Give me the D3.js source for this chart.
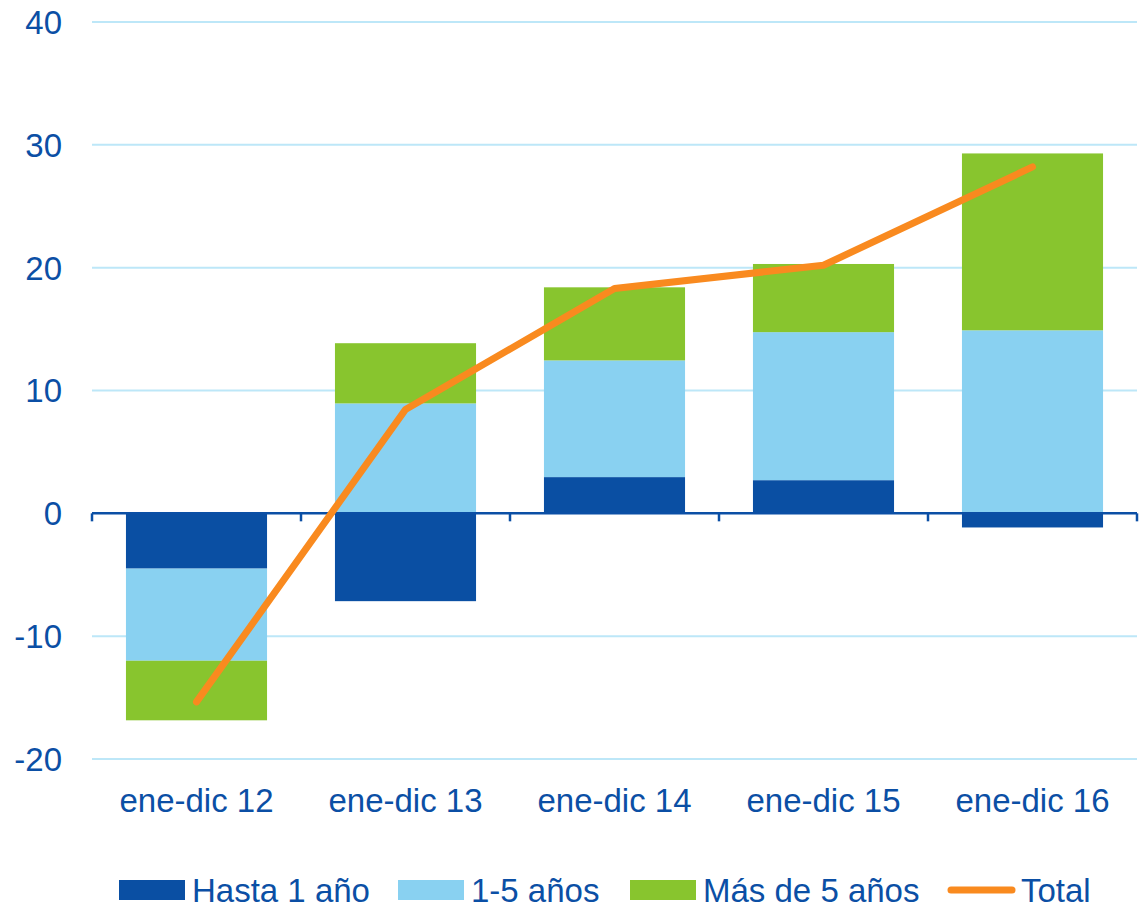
<!DOCTYPE html>
<html lang="es">
<head>
<meta charset="utf-8">
<script src="https://cdn.jsdelivr.net/npm/d3@7"></script>
<style>
  html, body { margin: 0; padding: 0; background: #fff; }
  svg { display: block; font-family: "Liberation Sans", Arial, sans-serif; }
</style>
</head>
<body>
<svg id="chart" width="1142" height="907"></svg>
<script>
// Periods on the x axis
const categories = ["ene-dic 12", "ene-dic 13", "ene-dic 14", "ene-dic 15", "ene-dic 16"];

// Stacked components by maturity
const hastaUnAno = [-4.5, -7.15, 2.95, 2.7, -1.15];
const unoACinco = [-7.5, 8.95, 9.5, 12.05, 14.9];
const masDeCinco = [-4.85, 4.9, 5.95, 5.55, 14.4];

// Total line
const total = [-15.35, 8.45, 18.3, 20.2, 28.2];

// Y axis ticks
const yTicks = [-20, -10, 0, 10, 20, 30, 40];

const seriesNames = ["Hasta 1 año", "1-5 años", "Más de 5 años"];
const seriesColors = ["#0a4fa3", "#89d1f1", "#88c52e"];
const lineColor = "#f98a1f";
const textColor = "#0b4fa5";
const fontSize = 33;

const svg = d3.select("#chart");
const plotLeft = 92, plotRight = 1137, plotTop = 22, plotBottom = 759;

const x = d3.scaleBand().domain(categories).range([plotLeft, plotRight]).paddingInner(0.325).paddingOuter(0.1625);
const xBand = d3.scaleBand().domain(categories).range([plotLeft, plotRight]);
const y = d3.scaleLinear().domain([-20, 40]).range([plotBottom, plotTop]);

// Gridlines
svg.append("g")
  .selectAll("line")
  .data(yTicks.filter(t => t !== 0))
  .join("line")
  .attr("x1", plotLeft).attr("x2", plotRight)
  .attr("y1", d => y(d)).attr("y2", d => y(d))
  .attr("stroke", "#bde7f8").attr("stroke-width", 2);

// Y tick labels
svg.append("g")
  .selectAll("text")
  .data(yTicks)
  .join("text")
  .attr("x", 62)
  .attr("y", d => y(d))
  .attr("dy", "0.36em")
  .attr("text-anchor", "end")
  .attr("fill", textColor)
  .attr("font-size", fontSize)
  .text(d => d);

// Stacked bars
const table = categories.map((c, i) => ({
  cat: c,
  [seriesNames[0]]: hastaUnAno[i],
  [seriesNames[1]]: unoACinco[i],
  [seriesNames[2]]: masDeCinco[i]
}));
const stacked = d3.stack().keys(seriesNames).offset(d3.stackOffsetDiverging)(table);

svg.append("g")
  .selectAll("g")
  .data(stacked)
  .join("g")
  .attr("fill", (d, i) => seriesColors[i])
  .selectAll("rect")
  .data(d => d)
  .join("rect")
  .attr("x", d => x(d.data.cat))
  .attr("width", x.bandwidth())
  .attr("y", d => y(Math.max(d[0], d[1])))
  .attr("height", d => Math.abs(y(d[0]) - y(d[1])));

// Zero axis with category ticks
const axisG = svg.append("g").attr("transform", `translate(0,${y(0)})`);
axisG.append("line")
  .attr("x1", plotLeft).attr("x2", plotRight)
  .attr("stroke", "#0b4fa5").attr("stroke-width", 2.5);
axisG.selectAll("line.tick")
  .data(d3.range(categories.length + 1))
  .join("line")
  .attr("class", "tick")
  .attr("x1", i => plotLeft + i * xBand.step())
  .attr("x2", i => plotLeft + i * xBand.step())
  .attr("y1", 0).attr("y2", 8)
  .attr("stroke", "#0b4fa5").attr("stroke-width", 2.5);

// Category labels
svg.append("g")
  .selectAll("text")
  .data(categories)
  .join("text")
  .attr("x", d => xBand(d) + xBand.bandwidth() / 2)
  .attr("y", 800)
  .attr("dy", "0.36em")
  .attr("text-anchor", "middle")
  .attr("fill", textColor)
  .attr("font-size", fontSize)
  .text(d => d);

// Total line
const line = d3.line()
  .x((d, i) => xBand(categories[i]) + xBand.bandwidth() / 2)
  .y(d => y(d));
svg.append("path")
  .datum(total)
  .attr("d", line)
  .attr("fill", "none")
  .attr("stroke", lineColor)
  .attr("stroke-width", 7)
  .attr("stroke-linecap", "round")
  .attr("stroke-linejoin", "round");

// Legend
const legendItems = [
  { name: seriesNames[0], color: seriesColors[0], type: "rect", x: 119 },
  { name: seriesNames[1], color: seriesColors[1], type: "rect", x: 398 },
  { name: seriesNames[2], color: seriesColors[2], type: "rect", x: 630 },
  { name: "Total", color: lineColor, type: "line", x: 948 }
];
const legendY = 890;
const lg = svg.append("g")
  .selectAll("g")
  .data(legendItems)
  .join("g")
  .attr("transform", d => `translate(${d.x},${legendY})`);
lg.filter(d => d.type === "rect").append("rect")
  .attr("x", 0).attr("y", -10).attr("width", 66).attr("height", 20)
  .attr("fill", d => d.color);
lg.filter(d => d.type === "line").append("line")
  .attr("x1", 3).attr("x2", 64).attr("y1", 0).attr("y2", 0)
  .attr("stroke", d => d.color).attr("stroke-width", 7).attr("stroke-linecap", "round");
lg.append("text")
  .attr("x", 73)
  .attr("y", 0)
  .attr("dy", "0.36em")
  .attr("fill", textColor)
  .attr("font-size", fontSize)
  .text(d => d.name);
</script>
</body>
</html>
